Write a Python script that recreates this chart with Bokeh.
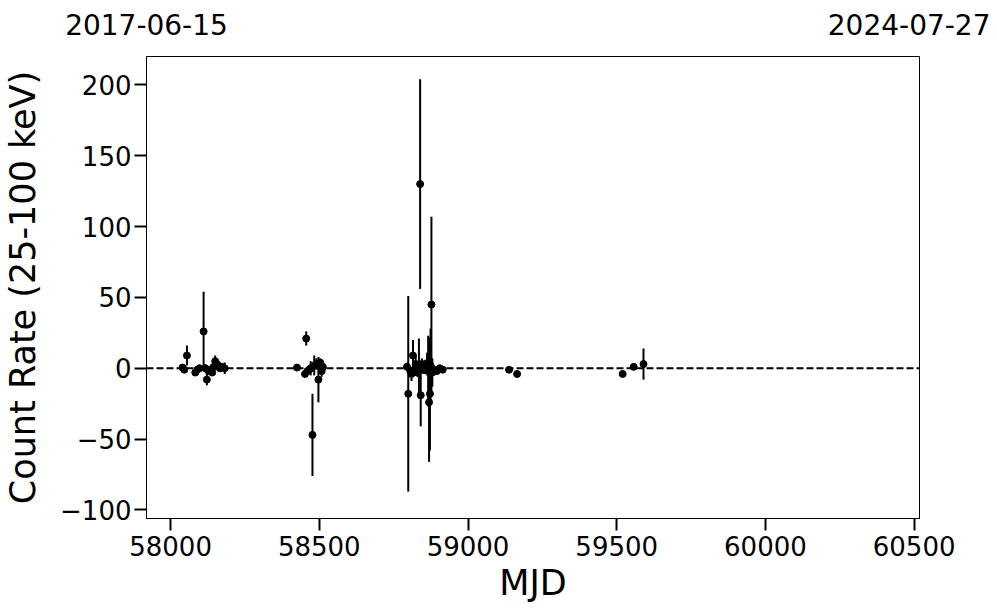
from bokeh.plotting import figure
from bokeh.models import Span, FixedTicker, Range1d, LinearAxis
from bokeh.embed import file_html
from bokeh.resources import INLINE

# ---- data ----
mjd = [58040, 58046, 58055, 58083, 58090, 58097, 58111, 58117, 58122, 58128,
       58134, 58140, 58145, 58150, 58155, 58160, 58166, 58172, 58182,
       58425, 58452, 58456, 58460, 58466, 58471, 58477, 58483, 58490, 58497,
       58503, 58508, 58512,
       58795, 58799, 58806, 58810, 58815, 58820, 58824, 58830, 58835, 58839,
       58841, 58845, 58850, 58856, 58862, 58866, 58869, 58872, 58874, 58877,
       58880, 58885, 58895, 58905, 58915,
       59138, 59165, 59520, 59557, 59590]
rate = [0.5, -1, 9, -3, -1, 0, 26, 0, -8, -2,
        -1, -3, 1, 5, 3, 2, 0, 1, 0,
        0.5, -4, 21, -2, -1, 0, -47, 2, 3, -8,
        4, -2, 1,
        1, -18, -2, -4, 9, -1, 3, -3, 1, 130,
        -19, 3, -1, 1, 3, -2, -24, -18, 2, 45,
        -3, -1, -2, 0, -1,
        -1, -4, -4, 1, 3]
err = [1.5, 1.5, 7, 2, 2, 2.5, 28, 3, 4, 2,
       3, 2, 2, 4, 2, 3, 2, 1.5, 4,
       1.5, 2, 5, 2, 3, 5, 29, 7, 4, 16,
       3, 4, 2,
       3, 69, 3, 5, 11, 4, 6, 3, 20, 74,
       22, 4, 3, 5, 8, 25, 42, 40, 26, 62,
       10, 3, 2, 2, 2,
       1.5, 1.5, 1.5, 2, 11]

x_start, x_end = 57919, 60518
date_start, date_end = "2017-06-15", "2024-07-27"
xticks = [58000, 58500, 59000, 59500, 60000, 60500]
yticks = [-100, -50, 0, 50, 100, 150, 200]

lo = [r - e for r, e in zip(rate, err)]
hi = [r + e for r, e in zip(rate, err)]

FONT = "DejaVu Sans"

p = figure(width=990, height=605, output_backend="svg", toolbar_location=None,
           x_range=Range1d(x_start, x_end), y_range=Range1d(-106, 220),
           min_border_left=146, min_border_right=71, min_border_top=56,
           min_border_bottom=80)
p.grid.visible = False
p.outline_line_color = "black"
p.outline_line_width = 1
p.background_fill_color = "white"
p.border_fill_color = "white"

p.segment(x0=mjd, y0=lo, x1=mjd, y1=hi, line_color="black", line_width=2)
p.scatter(x=mjd, y=rate, size=7, color="black")
p.add_layout(Span(location=0, dimension="width", line_color="black",
                  line_width=2, line_dash="7 3"))

for ax in (p.xaxis, p.yaxis):
    ax.major_tick_out = 12
    ax.major_tick_in = 0
    ax.minor_tick_out = 0
    ax.minor_tick_in = 0
    ax.major_tick_line_width = 2
    ax.axis_line_width = 1
    ax.major_label_text_font = FONT
    ax.major_label_text_font_size = "26px"
    ax.major_label_text_color = "black"
    ax.axis_label_text_font = FONT
    ax.axis_label_text_font_size = "35px"
    ax.axis_label_text_font_style = "normal"
    ax.axis_label_text_color = "black"

p.xaxis.ticker = FixedTicker(ticks=xticks)
p.yaxis.ticker = FixedTicker(ticks=yticks)
p.xaxis.major_label_overrides = {t: str(t) for t in xticks}
p.yaxis.major_label_overrides = {t: ("\u2212" + str(-t) if t < 0 else str(t)) for t in yticks}
p.xaxis.axis_label = "MJD"
p.yaxis.axis_label = "Count Rate (25-100 keV)"
p.yaxis.major_label_standoff = 3
p.xaxis.major_label_standoff = 5
p.yaxis.axis_label_standoff = 14
p.xaxis.axis_label_standoff = 4

# date labels at the two ends of the time range, on a top axis
top = LinearAxis(ticker=FixedTicker(ticks=[x_start, x_end]),
                 major_label_overrides={x_start: date_start, x_end: date_end},
                 axis_line_color=None, major_tick_line_color=None,
                 minor_tick_line_color=None, major_tick_out=0, major_tick_in=0,
                 major_label_standoff=22, major_label_text_font=FONT,
                 major_label_text_font_size="28px", major_label_text_color="black")
p.add_layout(top, "above")

open("out.html", "w").write(file_html(p, INLINE))
